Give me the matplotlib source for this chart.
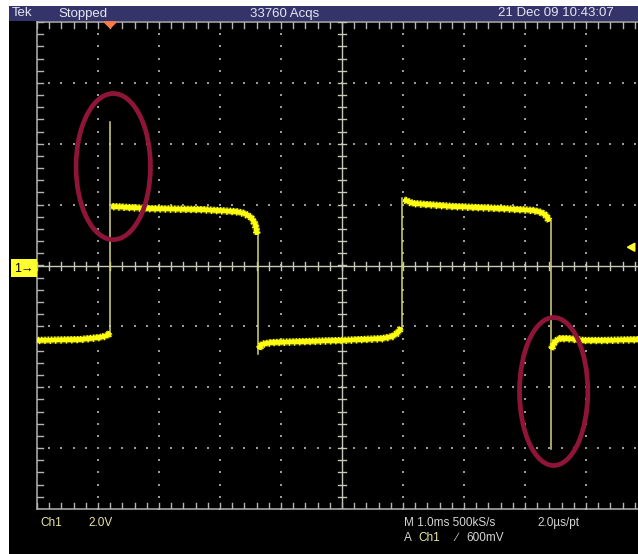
import numpy as np
import matplotlib
matplotlib.use("Agg")
import matplotlib.pyplot as plt
from matplotlib.patches import Ellipse, Rectangle, Polygon
import matplotlib.patheffects as pe

# Ch1 trace, time in ms, level in volts (2 V/div, 1 ms/div)
low1_t = [0.00, 0.71, 1.04, 1.155, 1.20]
low1_v = [-2.46, -2.43, -2.36, -2.30, -2.20]
high1_t = [1.22, 1.86, 2.69, 3.27, 3.40, 3.51, 3.58, 3.61]
high1_v = [1.94, 1.87, 1.84, 1.77, 1.71, 1.58, 1.35, 1.02]
low2_t = [3.64, 3.68, 3.84, 4.34, 5.00, 5.66, 5.83, 5.92, 5.97]
low2_v = [-2.75, -2.59, -2.53, -2.50, -2.46, -2.40, -2.33, -2.20, -2.04]
high2_t = [6.01, 6.16, 6.82, 7.64, 8.14, 8.27, 8.35, 8.40]
high2_v = [2.17, 2.04, 1.94, 1.87, 1.81, 1.74, 1.64, 1.45]
low3_t = [8.43, 8.48, 8.56, 8.71, 8.96, 9.29, 9.92]
low3_v = [-2.76, -2.53, -2.40, -2.40, -2.46, -2.46, -2.43]

# switching edges: time, start level, end (spike) level
edge_t = [1.20, 3.63, 5.99, 8.42]
edge_from = [-2.30, 1.02, -2.04, 1.45]
edge_to = [4.70, -2.92, 2.23, -6.04]

trigger_t = 1.20
trigger_level = 0.6

W, H = 638, 554
fig = plt.figure(figsize=(W / 100, H / 100), dpi=100, facecolor="white")

def fx(px):
    return px / W

def fy(py):
    return 1 - py / H

# screen background and status bar, kept below the axes
fig.patches.append(Rectangle((fx(9), 0), 1, fy(21), transform=fig.transFigure,
                             facecolor="black", edgecolor="none", zorder=-5))
fig.patches.append(Rectangle((fx(9), fy(21)), 1, fy(6) - fy(21), transform=fig.transFigure,
                             facecolor="#34346a", edgecolor="none", zorder=-5))

ax = fig.add_axes([fx(37), fy(509), 610 / W, 487 / H])
ax.set_xlim(0, 10)
ax.set_ylim(-8, 8)
ax.patch.set_visible(False)
ax.axis("off")

grid_col = "#9a9a9a"
px_t = 10 / 610
px_v = 16 / 487

# graticule: border, centre cross and dotted divisions
ax.plot([0, 10], [8, 8], color="#b4b4b4", lw=1.1, clip_on=False)
ax.plot([0, 10], [-8, -8], color="#b4b4b4", lw=1.1, clip_on=False)
ax.plot([0, 0], [-8, 8], color="#b4b4b4", lw=1.1, clip_on=False)
ax.plot([0, 10], [0, 0], color="#c8c8b8", lw=1.0)
ax.plot([5, 5], [-8, 8], color="#c8c8b8", lw=1.0)

minor_t = np.arange(0, 10.01, 0.2)
minor_v = np.arange(-8, 8.01, 0.4)
for t in minor_t:
    ax.plot([t, t], [8, 8 - 6 * px_v], color="#b4b4b4", lw=1.0)
    ax.plot([t, t], [-8, -8 + 6 * px_v], color="#b4b4b4", lw=1.0)
    ax.plot([t, t], [-4 * px_v, 4 * px_v], color="#c8c8b8", lw=1.0)
for v in minor_v:
    ax.plot([0, 6 * px_t], [v, v], color="#b4b4b4", lw=1.0)
    ax.plot([5 - 4 * px_t, 5 + 4 * px_t], [v, v], color="#c8c8b8", lw=1.0)

for t in range(1, 10):
    if t == 5:
        continue
    ax.scatter(np.full(minor_v.size, t), minor_v, s=1.6, marker="s", color=grid_col, lw=0)
for v in range(-6, 7, 2):
    if v == 0:
        continue
    ax.scatter(minor_t, np.full(minor_t.size, v), s=1.6, marker="s", color=grid_col, lw=0)

# fast edges show up dim and thin
for t, a, b in zip(edge_t, edge_from, edge_to):
    ax.plot([t, t], [a, b], color="#d8d47c", lw=1.1, zorder=3)

# settled levels: bright core, soft halo and a ragged edge
noise = [pe.Stroke(linewidth=5.0, foreground="#c8c400", alpha=0.55),
         pe.Normal(),
         pe.withTickedStroke(spacing=2.3, angle=90, length=1.1, linewidth=1.0),
         pe.withTickedStroke(spacing=3.7, angle=-90, length=0.75, linewidth=1.0)]
for ts, vs in [(low1_t, low1_v), (high1_t, high1_v), (low2_t, low2_v),
               (high2_t, high2_v), (low3_t, low3_v)]:
    ax.plot(ts, vs, color="#ffff10", lw=3.0, solid_capstyle="butt", zorder=4,
            path_effects=noise)

# highlighted spikes
ax.add_patch(Ellipse((1.25, 3.25), 1.22, 4.80, fill=False, edgecolor="#8e1538",
                     lw=3.4, zorder=5))
ax.add_patch(Ellipse((8.47, -4.14), 1.12, 4.86, fill=False, edgecolor="#8e1538",
                     lw=3.4, zorder=5))

# trigger position and level markers
ax.add_patch(Polygon([[trigger_t - 6 * px_t, 8], [trigger_t + 6 * px_t, 8],
                      [trigger_t, 8 - 6 * px_v]], closed=True, color="#ff7a48",
                     clip_on=False, zorder=6))
ax.add_patch(Polygon([[9.68, trigger_level], [9.80, trigger_level + 4 * px_v],
                      [9.80, trigger_level - 4 * px_v]], closed=True, color="#ffff30",
                     clip_on=False, zorder=6))

fam = ["Liberation Sans", "DejaVu Sans"]

# channel ground marker
fig.patches.append(Rectangle((fx(11), fy(277)), fx(26), fy(259) - fy(277),
                             transform=fig.transFigure, facecolor="#ffff30",
                             edgecolor="none", zorder=2))
fig.text(fx(24), fy(268.5), "1\u2192", ha="center", va="center", fontsize=9,
         color="black", family=fam, zorder=3)

top_col = "#e6e6f2"
fig.text(fx(12), fy(13.5), "Tek", ha="left", va="center", fontsize=9.5, color=top_col, family=fam)
fig.text(fx(58), fy(13.5), "Stopped", ha="left", va="center", fontsize=9.5, color=top_col, family=fam)
fig.text(fx(285), fy(13.5), "33760 Acqs", ha="center", va="center", fontsize=9.5, color=top_col, family=fam)
fig.text(fx(498), fy(13.5), "21 Dec 09 10:43:07", ha="left", va="center", fontsize=9.5, color=top_col, family=fam)

ch_col = "#ece6a0"
info_col = "#d4d4d4"
fig.text(fx(40), fy(523), "Ch1", ha="left", va="center", fontsize=8.5, color=ch_col, family=fam)
fig.text(fx(88), fy(523), "2.0V", ha="left", va="center", fontsize=8.5, color=ch_col, family=fam)
fig.text(fx(404), fy(523), "M 1.0ms 500kS/s", ha="left", va="center", fontsize=8.5, color=info_col, family=fam)
fig.text(fx(537), fy(523), "2.0\u00b5s/pt", ha="left", va="center", fontsize=8.5, color=info_col, family=fam)
fig.text(fx(404), fy(538), "A", ha="left", va="center", fontsize=8.5, color=info_col, family=fam)
fig.text(fx(418), fy(538), "Ch1", ha="left", va="center", fontsize=8.5, color=ch_col, family=fam)
fig.text(fx(455), fy(538), "\u2215", ha="left", va="center", fontsize=8.5, color=info_col, family=fam)
fig.text(fx(466), fy(538), "600mV", ha="left", va="center", fontsize=8.5, color=info_col, family=fam)

fig.savefig("out.png", dpi=100, facecolor="white")
